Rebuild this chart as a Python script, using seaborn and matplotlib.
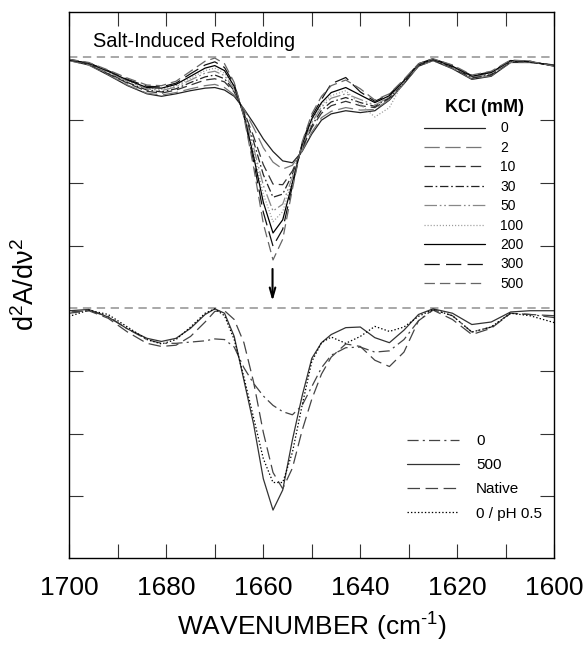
import matplotlib
matplotlib.use("Agg")
import matplotlib.pyplot as plt
import seaborn as sns
import pandas as pd

# second-derivative FTIR spectra (arbitrary units, baseline = 0)
wavenumber = [1700, 1696, 1692, 1688, 1684, 1681, 1678, 1675, 1672, 1670, 1668, 1666,
              1664, 1662, 1660, 1658, 1656, 1654, 1652, 1650, 1648, 1646, 1643, 1640,
              1637, 1634, 1631, 1628, 1625, 1621, 1617, 1613, 1609, 1605, 1600]

# upper panel: KCl titration
kcl_0 = [-0.05, -0.12, -0.28, -0.45, -0.58, -0.62, -0.58, -0.53, -0.49, -0.48, -0.52, -0.62,
         -0.82, -1.05, -1.30, -1.50, -1.65, -1.68, -1.50, -1.22, -1.00, -0.90, -0.85, -0.88,
         -0.85, -0.68, -0.42, -0.14, -0.05, -0.18, -0.35, -0.30, -0.08, -0.08, -0.12]
kcl_2 = [-0.05, -0.12, -0.27, -0.44, -0.57, -0.60, -0.56, -0.50, -0.45, -0.43, -0.48, -0.60,
         -0.83, -1.12, -1.44, -1.67, -1.78, -1.72, -1.49, -1.19, -0.96, -0.86, -0.80, -0.84,
         -0.83, -0.67, -0.41, -0.14, -0.05, -0.17, -0.34, -0.29, -0.08, -0.08, -0.12]
kcl_10 = [-0.04, -0.11, -0.26, -0.41, -0.54, -0.57, -0.52, -0.44, -0.36, -0.34, -0.39, -0.55,
          -0.86, -1.26, -1.71, -2.02, -2.03, -1.81, -1.46, -1.12, -0.89, -0.77, -0.70, -0.77,
          -0.80, -0.65, -0.40, -0.13, -0.04, -0.16, -0.33, -0.28, -0.07, -0.07, -0.13]
kcl_30 = [-0.04, -0.10, -0.25, -0.40, -0.52, -0.55, -0.50, -0.40, -0.31, -0.28, -0.34, -0.53,
          -0.88, -1.34, -1.87, -2.23, -2.18, -1.86, -1.44, -1.09, -0.84, -0.71, -0.64, -0.72,
          -0.78, -0.64, -0.39, -0.12, -0.04, -0.15, -0.32, -0.27, -0.06, -0.07, -0.13]
kcl_50 = [-0.04, -0.10, -0.24, -0.38, -0.50, -0.53, -0.47, -0.36, -0.25, -0.22, -0.29, -0.50,
          -0.89, -1.44, -2.04, -2.45, -2.34, -1.91, -1.42, -1.04, -0.79, -0.65, -0.58, -0.67,
          -0.76, -0.63, -0.38, -0.12, -0.03, -0.15, -0.31, -0.26, -0.06, -0.07, -0.13]
kcl_100 = [-0.04, -0.09, -0.23, -0.37, -0.49, -0.51, -0.45, -0.33, -0.21, -0.17, -0.25, -0.48,
           -0.91, -1.51, -2.18, -2.62, -2.46, -1.95, -1.40, -1.01, -0.75, -0.61, -0.53, -0.75,
           -0.95, -0.80, -0.37, -0.11, -0.03, -0.14, -0.30, -0.25, -0.05, -0.07, -0.13]
kcl_200 = [-0.04, -0.09, -0.22, -0.36, -0.48, -0.49, -0.43, -0.30, -0.17, -0.13, -0.21, -0.46,
           -0.92, -1.58, -2.31, -2.80, -2.59, -2.00, -1.39, -0.98, -0.72, -0.56, -0.48, -0.60,
           -0.72, -0.61, -0.37, -0.11, -0.03, -0.14, -0.30, -0.24, -0.05, -0.07, -0.13]
kcl_300 = [-0.03, -0.09, -0.21, -0.35, -0.46, -0.47, -0.41, -0.26, -0.12, -0.07, -0.16, -0.43,
           -0.93, -1.66, -2.47, -3.01, -2.74, -2.05, -1.37, -0.94, -0.67, -0.42, -0.32, -0.55,
           -0.70, -0.59, -0.36, -0.10, -0.02, -0.13, -0.29, -0.23, -0.05, -0.06, -0.14]
kcl_500 = [-0.03, -0.08, -0.20, -0.33, -0.44, -0.45, -0.38, -0.22, -0.06, -0.01, -0.10, -0.40,
           -0.95, -1.75, -2.65, -3.23, -2.90, -2.10, -1.35, -0.90, -0.62, -0.45, -0.36, -0.50,
           -0.68, -0.58, -0.35, -0.10, -0.02, -0.12, -0.28, -0.22, -0.04, -0.06, -0.14]
kcl_labels = ["0", "2", "10", "30", "50", "100", "200", "300", "500"]
kcl_series = [kcl_0, kcl_2, kcl_10, kcl_30, kcl_50, kcl_100, kcl_200, kcl_300, kcl_500]

# lower panel: comparison
cmp_0 = [-0.06, -0.04, -0.13, -0.33, -0.50, -0.56, -0.56, -0.54, -0.52, -0.49, -0.50, -0.62,
         -0.95, -1.20, -1.40, -1.55, -1.65, -1.70, -1.55, -1.25, -0.95, -0.75, -0.63, -0.62,
         -0.70, -0.68, -0.50, -0.20, -0.02, -0.12, -0.38, -0.30, -0.08, -0.10, -0.15]
cmp_500 = [-0.04, -0.02, -0.14, -0.33, -0.48, -0.53, -0.48, -0.32, -0.10, -0.01, -0.08, -0.45,
           -1.15, -1.85, -2.72, -3.22, -2.90, -2.10, -1.40, -0.80, -0.55, -0.42, -0.31, -0.30,
           -0.47, -0.55, -0.35, -0.10, -0.01, -0.08, -0.26, -0.22, -0.06, -0.04, -0.04]
cmp_native = [-0.08, -0.04, -0.16, -0.38, -0.56, -0.61, -0.59, -0.45, -0.22, -0.05, -0.04, -0.18,
              -0.55, -1.18, -1.98, -2.62, -2.88, -2.55, -1.95, -1.45, -1.05, -0.78, -0.57, -0.61,
              -0.83, -0.93, -0.70, -0.20, -0.03, -0.18, -0.42, -0.32, -0.08, -0.10, -0.12]
cmp_ph05 = [-0.13, -0.03, -0.10, -0.30, -0.50, -0.57, -0.50, -0.30, -0.08, -0.01, -0.12, -0.50,
            -1.10, -1.75, -2.40, -2.78, -2.78, -2.30, -1.55, -0.85, -0.55, -0.46, -0.56, -0.45,
            -0.29, -0.37, -0.30, -0.13, -0.02, -0.12, -0.38, -0.30, -0.08, -0.12, -0.23]
cmp_labels = ["0", "500", "Native", "0 / pH 0.5"]
cmp_series = [cmp_0, cmp_500, cmp_native, cmp_ph05]

# styling
kcl_styles = [("#222222", "-"), ("#777777", (0, (11, 4))), ("#333333", (0, (7.5, 3.6))),
              ("#222222", (0, (6, 2, 1.2, 2))), ("#888888", (0, (9, 2, 1.2, 2, 1.2, 2))),
              ("#999999", (0, (0.8, 1.4))), ("#000000", "-"), ("#111111", (0, (11, 4.5))),
              ("#666666", (0, (7.5, 3.6)))]
cmp_styles = [("#444444", (0, (8, 3, 1.5, 3))), ("#333333", "-"),
              ("#444444", (0, (9, 4))), ("#000000", (0, (1, 1.5)))]
lower_offset = -4

sns.set_style("white")
plt.rcParams["font.family"] = ["Liberation Sans", "DejaVu Sans"]
plt.rcParams["mathtext.fontset"] = "custom"
plt.rcParams["mathtext.rm"] = "Liberation Sans"
plt.rcParams["mathtext.default"] = "regular"
plt.rcParams["axes.unicode_minus"] = False
plt.rcParams["lines.scale_dashes"] = False
plt.rcParams["text.color"] = "black"
plt.rcParams["axes.labelcolor"] = "black"
plt.rcParams["xtick.color"] = "black"
plt.rcParams["ytick.color"] = "black"

fig = plt.figure(figsize=(5.86, 6.45), dpi=100)
ax = fig.add_axes([0.1183, 0.1353, 0.8276, 0.8466])

ax.axhline(0, color="#999999", lw=1.2, ls=(0, (6, 4)), zorder=1)
ax.axhline(lower_offset, color="#999999", lw=1.2, ls=(0, (6, 4)), zorder=1)

top_handles = []
for lab, vals, (col, ls) in zip(kcl_labels, kcl_series, kcl_styles):
    df = pd.DataFrame({"wavenumber": wavenumber, "signal": vals})
    sns.lineplot(data=df, x="wavenumber", y="signal", ax=ax, color=col,
                 linestyle=ls, lw=0.9, label=lab, legend=False)
    top_handles.append(ax.lines[-1])

bottom_handles = []
for lab, vals, (col, ls) in zip(cmp_labels, cmp_series, cmp_styles):
    df = pd.DataFrame({"wavenumber": wavenumber, "signal": [v + lower_offset for v in vals]})
    sns.lineplot(data=df, x="wavenumber", y="signal", ax=ax, color=col,
                 linestyle=ls, lw=0.9, label=lab, legend=False)
    bottom_handles.append(ax.lines[-1])

ax.annotate("", xy=(1658.1, -3.93), xytext=(1658.1, -3.33),
            arrowprops=dict(arrowstyle="->,head_length=0.7,head_width=0.2",
                            color="black", lw=1.5))

ax.text(1695.2, 0.25, "Salt-Induced Refolding", fontsize=14.4, va="center", ha="left")

ax.set_xlim(1700, 1600)
ax.set_ylim(-7.98, 0.73)
ax.set_xticks(range(1700, 1599, -20))
ax.set_xticks(range(1690, 1600, -20), minor=True)
ax.set_yticks([-1, -2, -3, -5, -6, -7])
ax.set_yticklabels([])
ax.tick_params(axis="both", which="both", direction="in", length=10, width=0.8,
               bottom=True, left=True, top=True, right=True,
               labelsize=19, pad=13, color="#333333")
for sp in ax.spines.values():
    sp.set_linewidth(1.0)
    sp.set_color("black")

ax.set_xlabel("WAVENUMBER (cm$^{\\text{-}1}$)", fontsize=19, labelpad=8)
ax.set_ylabel("d$^{2}$A/dν$^{2}$", fontsize=19.5, labelpad=8)

leg1 = ax.legend(top_handles, kcl_labels, title="KCl (mM)", loc="upper left",
                 bbox_to_anchor=(0.731, 0.84), frameon=False, fontsize=10,
                 title_fontproperties={"weight": "bold", "size": 13},
                 handlelength=4.4, handletextpad=1.1, labelspacing=0.39,
                 borderpad=0, borderaxespad=0, alignment="right")
ax.add_artist(leg1)
ax.legend(bottom_handles, cmp_labels, loc="upper left", bbox_to_anchor=(0.6957, 0.226),
          frameon=False, fontsize=11, handlelength=3.45, handletextpad=1.1,
          labelspacing=0.66, borderpad=0, borderaxespad=0)

fig.savefig("out.png", dpi=100)
